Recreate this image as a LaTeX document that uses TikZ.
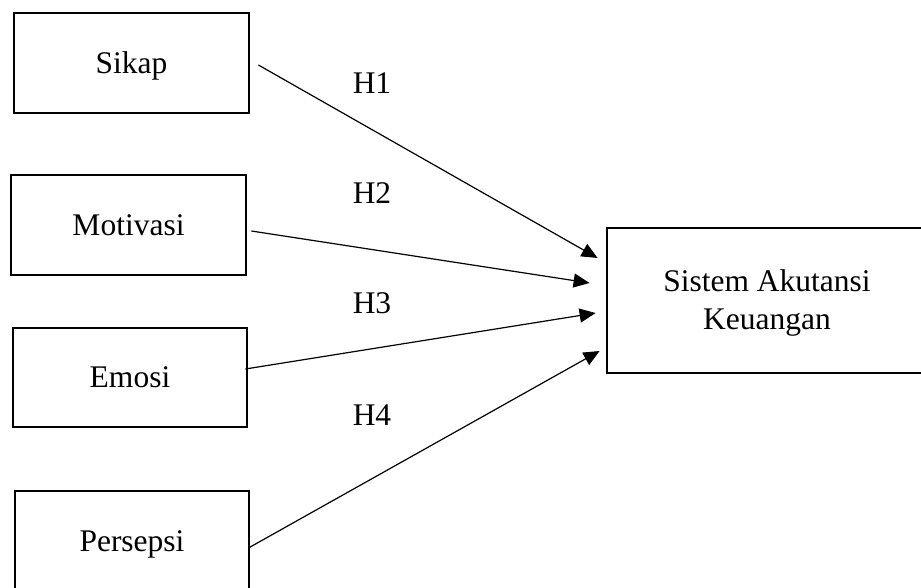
\documentclass[tikz,border=0pt]{standalone}
\usepackage{fontspec}
\setmainfont{Liberation Serif}
\usetikzlibrary{arrows.meta,calc}
\begin{document}
\begin{tikzpicture}[x=1pt,y=-1pt,
  every node/.style={font=\fontsize{31.5}{38}\selectfont, text height=28pt, text depth=7.4pt, inner sep=0pt},
  box/.style={draw, line width=2.8pt, minimum width=235pt, minimum height=100pt},
  link/.style={line width=1.2pt, -{Triangle[length=16pt,width=14pt]}}]
\useasboundingbox[fill=white] (0,0) rectangle (921,588);
\clip (0,0) rectangle (921,588);
\node[box] (sikap) at (131.5,63) {Sikap};
\node[box] (motivasi) at (128.5,225) {Motivasi};
\node[box, minimum width=234pt, minimum height=99pt] (emosi) at (130,377.5) {Emosi};
\node[box, minimum width=234pt] (persepsi) at (132,541) {Persepsi};
\node[box, minimum width=320pt, minimum height=145pt, align=center, text height=64.4pt, text depth=7.4pt] (sak) at (767,300.5) {Sistem Akutansi\\Keuangan};
\draw[link] ($(sikap.east)+(8,2)$) -- ($(sak.west)+(-8,-42.5)$);
\draw[link] ($(motivasi.east)+(4,6)$) -- ($(sak.west)+(-16,-17.5)$);
\draw[link] ($(emosi.east)+(-3,-8.5)$) -- ($(sak.west)+(-10,12.5)$);
\draw[link] ($(persepsi.east)+(-2,7)$) -- ($(sak.west)+(-6,50.5)$);
\node (h1) at (372,83) {H1};
\node (h2) at (372,193) {H2};
\node (h3) at (372,303) {H3};
\node (h4) at (372,415) {H4};
\end{tikzpicture}
\end{document}
